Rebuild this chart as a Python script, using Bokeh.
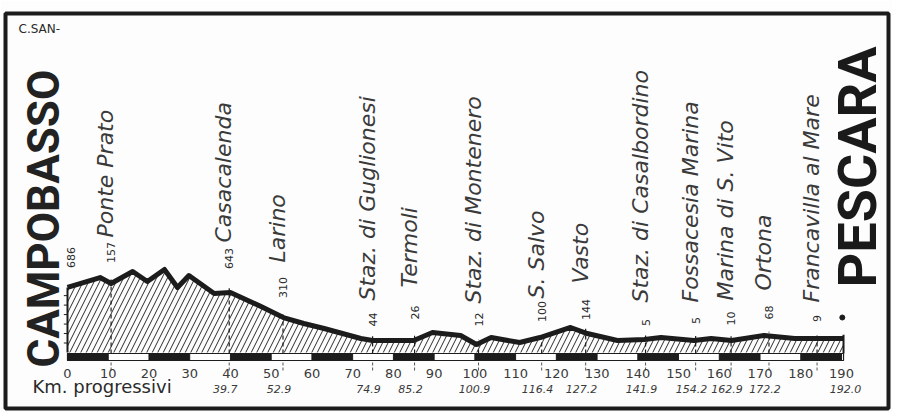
import numpy as np
from bokeh.plotting import figure
from bokeh.models import Range1d, Label, ColumnDataSource
from bokeh.core.properties import value
from bokeh.embed import file_html
from bokeh.resources import INLINE

# ---------------- data ----------------
# elevation profile (km from Campobasso, metres)
profile_km = [0, 8, 10.7, 16, 19.6, 23.8, 27, 29.8, 36, 40, 47, 53, 58, 63, 72,
              74.9, 85, 89.6, 96.5, 100.4, 104, 111, 116, 123.5, 127.6, 135,
              141.6, 145.7, 153.8, 158, 163, 171, 178.5, 184, 190.5]
profile_elev = [686, 791, 728, 855, 749, 876, 686, 812, 622, 633, 496, 369, 306, 253, 148,
                127, 127, 211, 179, 84, 158, 105, 158, 264, 200, 127,
                137, 158, 127, 148, 127, 179, 148, 148, 148]

# places along the route
station_names = ["Ponte Prato", "Casacalenda", "Larino", "Staz. di Guglionesi", "Termoli",
                 "Staz. di Montenero", "S. Salvo", "Vasto", "Staz. di Casalbordino",
                 "Fossacesia Marina", "Marina di S. Vito", "Ortona", "Francavilla al Mare"]
station_km = [10.7, 39.7, 52.9, 74.9, 85.2, 100.9, 116.4, 127.2, 141.9, 154.2, 162.9, 172.2, 184.0]
station_alt = ["157", "643", "310", "44", "26", "12", "100", "144", "5", "5", "10", "68", "9"]

# progressive kilometres written under the scale
prog_km = [39.7, 52.9, 74.9, 85.2, 100.9, 116.4, 127.2, 141.9, 154.2, 162.9, 172.2, 192.0]
prog_labels = ["39.7", "52.9", "74.9", "85.2", "100.9", "116.4", "127.2", "141.9",
               "154.2", "162.9", "172.2", "192.0"]

# kilometre scale
km_ticks = list(range(0, 200, 10))
km_tick_labels = [str(v) for v in km_ticks]

start_name, start_alt = "CAMPOBASSO", "686"
finish_name = "PESCARA"
finish_km = 190.5

# ---------------- layout helpers ----------------
S = 4.0737      # px per km
K = 10.55       # metres per px


def kx(px):
    return (px - 67) / S


def ey(py):
    return (352 - py) * K


# page-pixel placement of the written labels (bottom of name, centre of altitude)
name_bottom_px = [237, 242, 262, 300, 287, 303, 298, 283, 302, 302, 300, 290, 302]
alt_center_px = [252, 258, 287, 319, 312, 319, 311, 309, 322, 320, 318, 312, 318]

INK = "#1c1c1c"
PAPER = "#fdfdfd"

p = figure(width=892, height=412, output_backend="svg", toolbar_location=None,
           x_range=Range1d(-15.22, 201.54), y_range=Range1d(-590.8, 3576.5),
           x_axis_location=None, y_axis_location=None,
           min_border_left=5, min_border_right=4, min_border_top=13, min_border_bottom=4,
           background_fill_color=PAPER, border_fill_color=PAPER)
p.xgrid.visible = False
p.ygrid.visible = False
p.outline_line_color = INK
p.outline_line_width = 4

# hatched profile
p.varea(x=profile_km, y1=[0] * len(profile_km), y2=profile_elev,
        fill_color=PAPER, hatch_pattern="/", hatch_scale=11, hatch_weight=1.0,
        hatch_color="#2a2a2a")

# left edge with small altitude ticks
p.segment(x0=[0], y0=[0], x1=[0], y1=[profile_elev[0]], line_color=INK, line_width=2)
alt_ticks = [100, 200, 300, 400, 500, 600]
p.segment(x0=[-0.9] * len(alt_ticks), y0=alt_ticks, x1=[0] * len(alt_ticks), y1=alt_ticks,
          line_color=INK, line_width=1)

# station dashed lines
st_elev = np.interp(station_km, profile_km, profile_elev)
p.segment(x0=station_km, y0=[-10] * len(station_km), x1=station_km, y1=list(st_elev + 45),
          line_color=INK, line_width=1.2, line_dash="4 3")
# little marks under the scale
p.segment(x0=station_km, y0=[ey(362)] * len(station_km), x1=station_km, y1=[ey(371)] * len(station_km),
          line_color="#555555", line_width=1, line_dash="3 2")
# finish line
p.segment(x0=[finish_km], y0=[-10], x1=[finish_km], y1=[profile_elev[-1] + 40],
          line_color=INK, line_width=2)

# profile line
p.line(profile_km, profile_elev, line_color=INK, line_width=5, line_join="round")

# kilometre bar (alternating black / white)
p.quad(left=[0], right=[finish_km], bottom=[ey(360)], top=[ey(353)],
       fill_color="white", line_color=INK, line_width=1.2)
blk = km_ticks[::2]
p.quad(left=blk, right=[b + 10 for b in blk], bottom=[ey(360)] * len(blk), top=[ey(353)] * len(blk),
       fill_color=INK, line_color=INK, line_width=1)

# km numbers
p.text(x=km_ticks, y=[ey(373)] * len(km_ticks), text=km_tick_labels,
       text_font=value("DejaVu Sans"), text_font_size="13px", text_color="#3a3a3a",
       text_align="center", text_baseline="middle")

# progressive km
p.text(x=[k - 1.0 for k in prog_km], y=[ey(388)] * len(prog_km), text=prog_labels,
       text_font=value("DejaVu Sans"), text_font_size="11px", text_font_style="italic",
       text_color="#3a3a3a", text_align="center", text_baseline="middle")

# station names (rotated)
src = ColumnDataSource(dict(
    x=[k - 1.3 for k in station_km],
    y=[ey(v) for v in name_bottom_px],
    t=station_names))
p.text(x="x", y="y", text="t", source=src, angle=np.pi / 2,
       text_font=value("DejaVu Sans"), text_font_size="22px", text_font_style="italic",
       text_color="#3a3a3a", text_align="left", text_baseline="middle")

# altitudes
src2 = ColumnDataSource(dict(
    x=station_km + [0.9],
    y=[ey(v) for v in alt_center_px] + [ey(257)],
    t=station_alt + [start_alt]))
p.text(x="x", y="y", text="t", source=src2, angle=np.pi / 2,
       text_font=value("DejaVu Sans"), text_font_size="11px",
       text_color="#2a2a2a", text_align="center", text_baseline="middle")

# finish dot
p.scatter(x=[finish_km - 0.3], y=[ey(317)], size=5, color=INK)

# big place names
p.add_layout(Label(x=kx(43), y=ey(367), text=start_name, angle=np.pi / 2,
                   text_font="Roboto", text_font_style="bold", text_font_size="44px",
                   text_color="#222222", text_align="left", text_baseline="middle"))
p.add_layout(Label(x=kx(857), y=ey(287), text=finish_name, angle=np.pi / 2,
                   text_font="Roboto", text_font_style="bold", text_font_size="54px",
                   text_color="#1a1a1a", text_align="left", text_baseline="middle"))

# bottom caption and corner note
p.add_layout(Label(x=kx(32), y=ey(386), text="Km. progressivi",
                   text_font="DejaVu Sans", text_font_size="18px",
                   text_color="#2a2a2a", text_align="left", text_baseline="middle"))
p.add_layout(Label(x=kx(18), y=ey(28), text="C.SAN-",
                   text_font="DejaVu Sans", text_font_size="12px",
                   text_color="#2a2a2a", text_align="left", text_baseline="middle"))

open("out.html", "w").write(file_html(p, INLINE))
